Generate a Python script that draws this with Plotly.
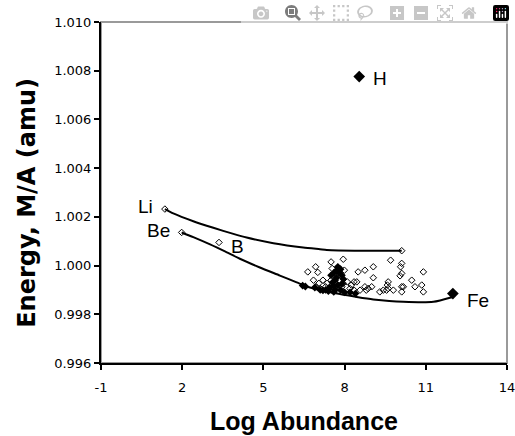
import plotly.graph_objects as go

# Axis ticks
x_ticks = [-1, 2, 5, 8, 11, 14]
x_tick_text = ["-1", "2", "5", "8", "11", "14"]

# Upper trend curve (Li ... )
upper_x = [1.36, 1.67, 2.41, 3.15, 3.89, 4.38, 5.37, 6.47, 7.09, 7.34, 8.6, 10.11]
upper_y = [1.00232, 1.00214, 1.00182, 1.00155, 1.00130, 1.00115, 1.00092, 1.00074, 1.00067, 1.00064, 1.00061, 1.00061]

# Lower trend curve (Be ... Fe)
lower_x = [1.98, 2.41, 3.03, 3.60, 4.13, 4.87, 5.61, 6.23, 6.72, 7.83, 8.45, 9.06, 10.17, 11.28, 11.96]
lower_y = [1.00136, 1.00117, 1.00087, 1.00057, 1.00028, 0.99992, 0.99959, 0.99931, 0.99910, 0.99883, 0.99871, 0.99861, 0.99851, 0.99851, 0.99870]

# Open-diamond isotopes
iso_x = [1.36, 1.98, 3.36, 10.11,
         6.64, 6.93, 7.01, 7.50, 7.54, 7.95, 7.99,
         6.85, 7.05, 7.20, 7.35, 7.50, 7.65, 7.80, 7.95, 8.10, 8.25,
         6.95, 7.10, 7.30, 7.60, 7.90, 8.20, 8.35,
         8.35, 8.50, 8.75, 9.06, 9.06, 9.70, 10.07, 10.05, 9.61, 8.57,
         8.87, 8.75, 9.43, 9.61, 9.80, 10.11, 10.11, 10.17, 10.11, 10.11,
         10.91, 10.48, 10.60, 10.85, 10.91, 8.45, 9.00, 8.80, 9.30, 9.55, 9.58]
iso_y = [1.00232, 1.00136, 1.00095, 1.00061,
         0.99974, 0.99995, 0.99972, 1.00015, 0.99988, 1.00026, 0.99981,
         0.99940, 0.99927, 0.99940, 0.99927, 0.99940, 0.99927, 0.99940, 0.99927, 0.99933, 0.99920,
         0.99913, 0.99906, 0.99913, 0.99906, 0.99913, 0.99906, 0.99899,
         0.99933, 0.99974, 0.99981, 0.99995, 0.99950, 1.00022, 0.99995, 0.99958, 0.99933, 0.99899,
         0.99906, 0.99913, 0.99899, 0.99906, 0.99899, 0.99913, 0.99892, 0.99913, 1.00009, 0.99968,
         0.99974, 0.99940, 0.99913, 0.99920, 0.99892, 0.99933, 0.99913, 0.99899, 0.99892, 0.99899, 0.99920]

# Dense (overlapping) cluster drawn as filled diamonds
dense_x = [7.75, 7.85, 7.70, 7.60, 7.80, 7.90, 7.50, 7.70, 7.55, 7.75, 7.45, 7.65, 7.85, 7.30,
           8.00, 7.10, 6.90, 7.20, 7.40, 7.60, 8.20, 8.40, 6.45, 6.55, 7.95, 7.65, 7.60, 7.90]
dense_y = [0.99995, 0.99985, 0.99980, 0.99970, 0.99970, 0.99960, 0.99960, 0.99950, 0.99930, 0.99920,
           0.99910, 0.99900, 0.99900, 0.99900, 0.99890, 0.99900, 0.99910, 0.99898, 0.99895, 0.99892,
           0.99890, 0.99885, 0.99918, 0.99914, 0.99945, 0.99940, 0.99915, 0.99925]

# Highlighted elements
key_x = [8.54, 12.0]
key_y = [1.00776, 0.99885]

label_text = ["H", "Li", "Be", "B", "Fe"]
label_x = [9.31, 0.64, 1.14, 4.06, 12.93]
label_y = [1.00767, 1.00244, 1.00142, 1.00080, 0.99858]

fig = go.Figure()
fig.add_trace(go.Scatter(x=upper_x, y=upper_y, mode="lines",
                         line=dict(color="black", width=2, shape="spline", smoothing=0.6),
                         hoverinfo="skip"))
fig.add_trace(go.Scatter(x=lower_x, y=lower_y, mode="lines",
                         line=dict(color="black", width=2, shape="spline", smoothing=0.6),
                         hoverinfo="skip"))
fig.add_trace(go.Scatter(x=iso_x, y=iso_y, mode="markers",
                         marker=dict(symbol="diamond-open", size=5, color="black",
                                     line=dict(width=1, color="black"))))
fig.add_trace(go.Scatter(x=dense_x, y=dense_y, mode="markers",
                         marker=dict(symbol="diamond", size=6, color="black")))
fig.add_trace(go.Scatter(x=key_x, y=key_y, mode="markers",
                         marker=dict(symbol="diamond", size=9, color="black")))

for t, x, y in zip(label_text, label_x, label_y):
    fig.add_annotation(x=x, y=y, xref="x", yref="y", text=t, showarrow=False,
                       font=dict(family="Liberation Sans, Arial", size=19, color="black"),
                       xanchor="center", yanchor="middle")

fig.add_annotation(x=-0.182, y=0.47, xref="paper", yref="paper",
                   text="<b>Energy, M/A (amu)</b>", showarrow=False, textangle=-90,
                   font=dict(family="DejaVu Sans, Liberation Sans", size=24, color="black"),
                   xanchor="center", yanchor="middle")
fig.add_annotation(x=0.50, y=-0.171, xref="paper", yref="paper",
                   text="<b>Log Abundance</b>", showarrow=False,
                   font=dict(family="Liberation Sans, Arial", size=25, color="black"),
                   xanchor="center", yanchor="middle")

fig.add_shape(type="rect", xref="paper", yref="paper", x0=0, x1=1, y0=0, y1=1,
              line=dict(color="#9a9a9a", width=2), layer="below")

fig.update_xaxes(range=[-1, 14], tickmode="array", tickvals=x_ticks, ticktext=x_tick_text,
                 showgrid=False, zeroline=False, automargin=False,
                 showline=True, linecolor="black", linewidth=2,
                 ticks="outside", ticklen=5, tickwidth=1.5, tickcolor="black",
                 ticklabeloverflow="allow", ticklabelstandoff=6,
                 tickfont=dict(family="DejaVu Sans, Liberation Sans", size=13, color="black"))
fig.update_yaxes(range=[0.996, 1.010], dtick=0.002, tickformat=".3f", showgrid=False,
                 zeroline=False, showline=True, linecolor="black", linewidth=2, automargin=False,
                 ticks="outside", ticklen=5, tickwidth=1.5, tickcolor="black",
                 tickfont=dict(family="DejaVu Sans, Liberation Sans", size=13, color="black"))

fig.update_layout(width=515, height=436, showlegend=False,
                  margin=dict(l=101, r=8, t=22, b=73),
                  paper_bgcolor="white", plot_bgcolor="white")

# remove the default 8px page margin so the figure fills the window exactly
fig.write_html("out.html",
               post_script="document.body.style.margin='0px';"
                           "document.documentElement.style.overflow='hidden';")
